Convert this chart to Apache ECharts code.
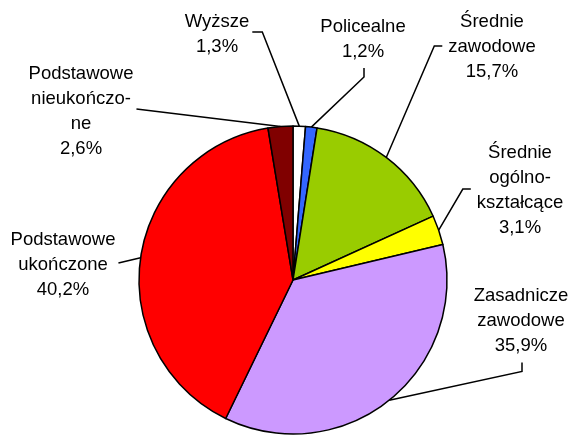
<!DOCTYPE html>
<html>
<head>
<meta charset="utf-8">
<script src="https://cdn.jsdelivr.net/npm/echarts@6/dist/echarts.min.js"></script>
<style>
  html, body { margin: 0; padding: 0; background: #ffffff; }
  #chart { width: 571px; height: 440px; }
</style>
</head>
<body>
<div id="chart"></div>
<script>
// wykształcenie - udział procentowy
const categories = [
  "Wyższe",
  "Policealne",
  "Średnie\nzawodowe",
  "Średnie\nogólno-\nkształcące",
  "Zasadnicze\nzawodowe",
  "Podstawowe\nukończone",
  "Podstawowe\nnieukończo-\nne",
];
const values = [1.3, 1.2, 15.7, 3.1, 35.9, 40.2, 2.6];
const colors = ["#ffffff", "#3366ff", "#99cc00", "#ffff00", "#cc99ff", "#ff0000", "#800000"];
// label centres (px) and which side the leader line attaches to
const labelPos = [
  [217, 34],
  [363, 39],
  [492, 47],
  [520, 190],
  [521, 321],
  [63, 265],
  [81, 111],
];
const labelSide = ["right", "bottom", "left", "left", "bottom", "right", "right"];

let myChart = echarts.init(document.getElementById("chart"));

let option = {
  backgroundColor: "#ffffff",
  animation: false,
  series: [
    {
      type: "pie",
      center: [293, 280],
      radius: 154,
      startAngle: 90,
      clockwise: true,
      avoidLabelOverlap: false,
      itemStyle: {
        borderColor: "#000000",
        borderWidth: 1.5,
      },
      label: {
        show: true,
        color: "#000000",
        fontFamily: "Liberation Sans, Arial, sans-serif",
        fontSize: 18.5,
        lineHeight: 25,
        align: "center",
        formatter: function (p) {
          return p.name + "\n" + p.value.toFixed(1).replace(".", ",") + "%";
        },
      },
      labelLine: {
        show: true,
        lineStyle: { color: "#000000", width: 1.5 },
      },
      labelLayout: function (params) {
        let i = params.dataIndex;
        let p = labelPos[i];
        let w = params.labelRect.width;
        let h = params.labelRect.height;
        let start = params.labelLinePoints ? params.labelLinePoints[0] : null;
        let res = { x: p[0], y: p[1], align: "center", verticalAlign: "middle" };
        if (start) {
          let end, elbow;
          if (labelSide[i] === "right") {
            end = [p[0] + w / 2 + 3, p[1] - 2];
            elbow = i === 0 ? [end[0] + 10, end[1]] : end;
          } else if (labelSide[i] === "left") {
            end = [p[0] - w / 2 - 6, p[1] - 1];
            elbow = [end[0] - 8, end[1]];
          } else {
            end = [p[0] + 1, p[1] + h / 2 + 4];
            elbow = [end[0], end[1] + 9];
          }
          res.labelLinePoints = [start, elbow, end];
        }
        return res;
      },
      emphasis: { disabled: true },
      data: categories.map(function (c, i) {
        return { name: c, value: values[i], itemStyle: { color: colors[i] } };
      }),
    },
  ],
};

myChart.setOption(option);
</script>
</body>
</html>
